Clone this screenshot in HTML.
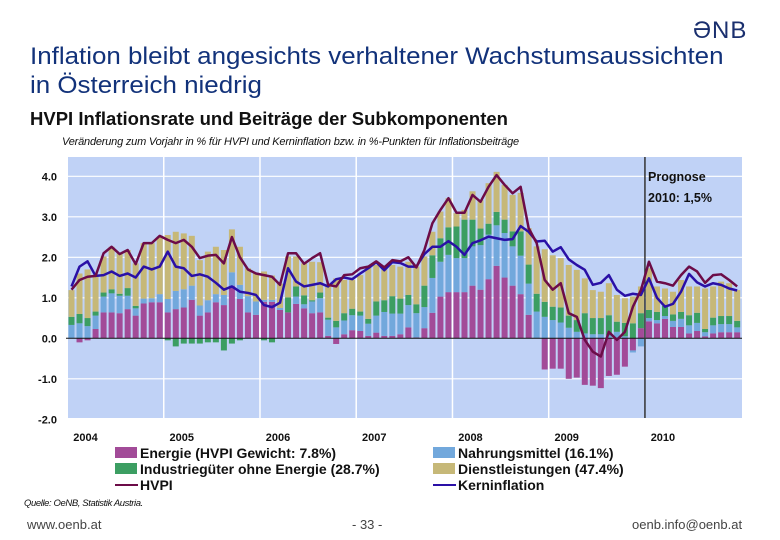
<!DOCTYPE html>
<html><head><meta charset="utf-8"><style>
body{margin:0;width:780px;height:540px;background:#fff;overflow:hidden;font-family:"Liberation Sans",sans-serif;position:relative}
.a{position:absolute;white-space:nowrap}
</style></head><body>
<div class="a" style="left:693px;top:17px;font-size:24px;color:#1a2f6e;letter-spacing:1px">ƏNB</div>
<div class="a" style="left:30px;top:42px;font-size:24px;line-height:29px;color:#12327a;transform:scaleX(1.08);transform-origin:left">Inflation bleibt angesichts verhaltener Wachstumsaussichten<br>in Österreich niedrig</div>
<div class="a" style="left:30px;top:108px;font-size:18.5px;font-weight:bold;color:#111">HVPI Inflationsrate und Beiträge der Subkomponenten</div>
<div class="a" style="left:62px;top:136px;font-size:11px;font-style:italic;color:#111;letter-spacing:-0.2px">Veränderung zum Vorjahr in % für HVPI und Kerninflation bzw. in %-Punkten für Inflationsbeiträge</div>
<svg id="c" class="a" style="left:0;top:0" width="780" height="540"></svg>
<div class="a" style="left:24px;top:498px;font-size:9.5px;font-style:italic;color:#111;letter-spacing:-0.4px">Quelle: OeNB, Statistik Austria.</div>
<div class="a" style="left:27px;top:517px;font-size:13px;color:#444">www.oenb.at</div>
<div class="a" style="left:352px;top:517px;font-size:13px;color:#444">- 33 -</div>
<div class="a" style="left:632px;top:517px;font-size:13px;color:#444">oenb.info@oenb.at</div>
<script>
const years=["2004","2005","2006","2007","2008","2009","2010"];
const yTicks=[4,3,2,1,0,-1,-2];
const energy=[0,-.1,-.05,.23,.64,.64,.62,.72,.56,.86,.89,.89,.64,.72,.76,.95,.56,.64,.89,.82,1.3,.97,.64,.58,.9,.9,.7,.64,.85,.74,.62,.64,.06,-.14,.1,.2,.18,.06,.14,.06,.06,.1,.27,.02,.25,.63,1.03,1.14,1.14,1.14,1.3,1.2,1.46,1.79,1.5,1.3,1.09,.58,0,-.77,-.75,-.75,-1,-.97,-1.15,-1.17,-1.23,-.93,-.9,-.7,-.3,.25,.42,.37,.48,.28,.28,.12,.18,.05,.12,.15,.15,.15];
const food=[.33,.37,.3,.33,.39,.47,.43,.33,.18,.12,.1,.2,.33,.45,.45,.35,.25,.3,.2,.25,.33,.35,.4,.33,.05,.05,.05,0,.18,.1,.29,.35,.4,.27,.34,.37,.38,.3,.42,.59,.55,.51,.55,.6,.52,.86,.86,.92,.84,.84,.97,1.1,1.1,1,1.1,.97,.95,.77,.66,.53,.45,.39,.26,.16,.12,.1,.1,.07,.16,.05,-.05,-.2,.08,.08,.07,.15,.2,.2,.2,.1,.2,.2,.2,.12];
const goods=[.2,.23,.2,.1,.1,.1,.05,.19,.06,0,0,0,-.05,-.2,-.13,-.13,-.13,-.1,-.1,-.3,-.13,-.05,0,0,-.05,-.1,0,.37,.25,.22,.03,.14,.05,.16,.18,.16,.1,.12,.35,.29,.43,.37,.25,.22,.53,.56,.58,.68,.78,.95,.66,.41,.27,.33,.33,.37,.6,.47,.44,.37,.33,.37,.3,.29,.5,.4,.4,.5,.25,.33,.37,.37,.2,.2,.25,.16,.17,.25,.25,.08,.19,.2,.2,.16];
const services=[.66,1,1.2,.88,.89,1.05,1,.94,1.05,1.37,1.36,1.42,1.58,1.46,1.38,1.23,1.12,1.2,1.17,1.11,1.06,.94,.69,.71,.7,.6,.6,1.01,.74,.79,.95,.75,.77,1.05,.82,.71,.9,1.29,.9,.79,.77,.79,.82,.93,.72,.58,.66,.72,.33,.24,.7,.7,1,.99,.86,.9,.95,.9,1.17,1.3,1.27,1.22,1.25,1.24,.86,.69,.65,.79,.66,.61,.66,.66,1.03,.63,.43,.56,.79,.71,.65,1,.77,.85,.81,.76];
const hvpi=[1.2,1.44,1.52,1.54,2.1,2.26,2.08,2.18,1.83,2.35,2.35,2.53,2.43,2.35,2.43,2.26,1.98,2.04,2.06,1.85,2.5,2,1.7,1.6,1.56,1.52,1.32,2.1,2.1,1.84,1.98,2.1,1.32,1.28,1.56,1.58,1.73,1.77,1.9,1.75,1.93,1.9,2,1.75,2.18,2.84,3.17,3.46,3.1,3.1,3.54,3.37,3.74,4.03,3.79,3.58,3.74,2.72,2.35,1.44,1.2,1.36,.62,.53,-.04,-.33,-.45,.16,-.04,.16,.78,1.19,1.89,1.4,1.36,1.3,1.56,1.77,1.65,1.37,1.56,1.58,1.44,1.28];
const core=[1.28,1.77,1.9,1.54,1.56,1.65,1.54,1.6,1.5,1.77,1.7,1.77,2.14,1.77,1.73,1.54,1.58,1.52,1.37,1.2,1.28,1.15,1.12,1.07,.82,.77,.88,1.73,1.4,1.28,1.32,1.36,1.28,1.46,1.5,1.46,1.6,1.73,1.88,1.68,1.88,1.86,1.77,1.77,2.08,2.26,2.26,2.4,2.26,2.06,2.35,2.42,2.51,2.47,2.43,2.45,2.77,2.63,2.39,2.41,2.14,2.25,1.95,1.81,1.69,1.32,1.37,1.56,1.2,1.05,1.1,1.07,1.48,1,.78,.85,1.15,1.59,1.38,1.28,1.36,1.32,1.23,1.18];
const L=68,R=742,T=157,B=418,X0=67.5,MW=8.02;
const y=v=>338.3-v*40.5;
const xc=i=>X0+MW*(i+0.5);
const svg=document.getElementById('c');
const NS='http://www.w3.org/2000/svg';
function mk(t,a){const e=document.createElementNS(NS,t);for(const k in a)e.setAttribute(k,a[k]);svg.appendChild(e);return e;}
let e=mk('rect',{x:L,y:T,width:R-L,height:B-T,fill:'#c0d2f6'});

yTicks.forEach(v=>{
 if(v!==0&&v!==-2){const g=mk('line',{x1:L,x2:R,y1:y(v),y2:y(v),stroke:'#fff','stroke-width':1.2});}
 const t=mk('text',{x:57,y:y(v)+4,'text-anchor':'end','font-size':11,'font-weight':'bold',fill:'#111'});t.textContent=v.toFixed(1);
 
});
years.forEach((yr,k)=>{
 const x=X0+k*12*MW;
 if(k>0&&k<6){const g=mk('line',{x1:x,x2:x,y1:T,y2:B,stroke:'#fff','stroke-width':1.5});}
 const t=mk('text',{x:x+18,y:441,'text-anchor':'middle','font-size':11,'font-weight':'bold',fill:'#111'});t.textContent=yr;
 
});
const series=[[energy,'#a24b98','bar-energy'],[food,'#72a8dc','bar-food'],[goods,'#3c9e62','bar-goods'],[services,'#c6b878','bar-services']];
for(let i=0;i<energy.length;i++){
 let pos=0,neg=0;
 series.forEach(([arr,col,nm])=>{
  const v=arr[i];if(!v)return;
  let y1,y2;
  if(v>0){y1=y(pos+v);y2=y(pos);pos+=v;}else{y1=y(neg);y2=y(neg+v);neg+=v;}
  const r=mk('rect',{x:xc(i)-3,y:y1,width:6,height:y2-y1,fill:col});
  
 });
}
e=mk('line',{x1:L-2,x2:R,y1:y(0),y2:y(0),stroke:'#111','stroke-width':1});

e=mk('line',{x1:X0+72*MW,x2:X0+72*MW,y1:T,y2:B,stroke:'#333','stroke-width':1.5});

e=mk('polyline',{points:core.map((v,i)=>xc(i)+','+y(v)).join(' '),fill:'none',stroke:'#2a10a6','stroke-width':2.5,'stroke-linejoin':'round'});

e=mk('polyline',{points:hvpi.map((v,i)=>xc(i)+','+y(v)).join(' '),fill:'none',stroke:'#6c0c48','stroke-width':2.5,'stroke-linejoin':'round'});

e=mk('text',{x:648,y:181,'font-size':12.5,'font-weight':'bold',fill:'#111'});e.textContent='Prognose';

e=mk('text',{x:648,y:202,'font-size':12.5,'font-weight':'bold',fill:'#111'});e.textContent='2010: 1,5%';

const leg=[[115,451,'#a24b98','rect','Energie (HVPI Gewicht: 7.8%)'],[433,451,'#72a8dc','rect','Nahrungsmittel (16.1%)'],[115,467,'#3c9e62','rect','Industriegüter ohne Energie (28.7%)'],[433,467,'#c6b878','rect','Dienstleistungen (47.4%)'],[115,483,'#6c0c48','line','HVPI'],[433,483,'#2a10a6','line','Kerninflation']];
leg.forEach(([x,yy,col,type,txt])=>{
 let s;
 if(type==='rect')s=mk('rect',{x:x,y:yy-4,width:22,height:11,fill:col});
 else s=mk('line',{x1:x,x2:x+23,y1:yy+2,y2:yy+2,stroke:col,'stroke-width':2});
 
 const t=mk('text',{x:x+25,y:yy+7,'font-size':14,'font-weight':'bold',fill:'#111'});t.textContent=txt;
 
});
</script>
</body></html>
